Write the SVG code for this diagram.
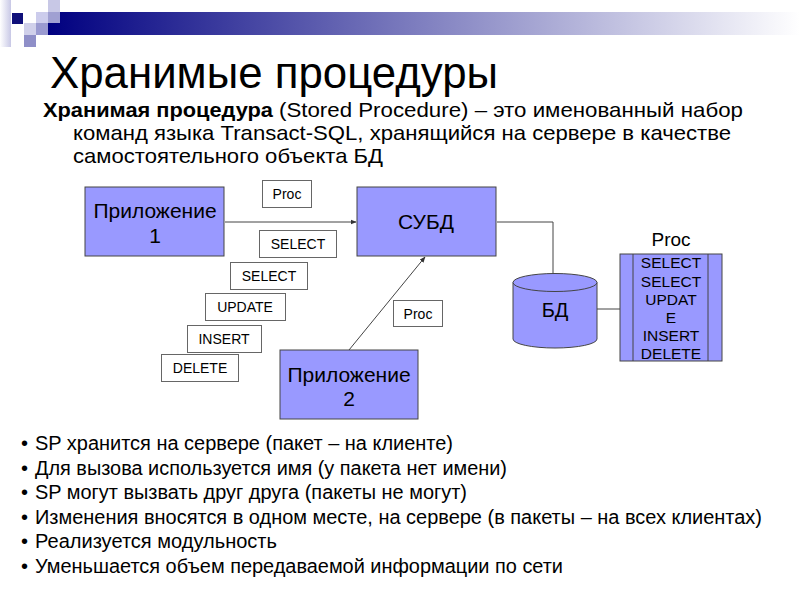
<svg xmlns="http://www.w3.org/2000/svg" width="800" height="600" viewBox="0 0 800 600">
<defs>
<linearGradient id="bar" x1="0" y1="0" x2="1" y2="0">
<stop offset="0" stop-color="#000080"/>
<stop offset="0.5" stop-color="#8080c0"/>
<stop offset="1" stop-color="#ffffff"/>
</linearGradient>
<linearGradient id="strip" x1="0" y1="0" x2="1" y2="0">
<stop offset="0" stop-color="#ffffff"/>
<stop offset="1" stop-color="#c8c8e6"/>
</linearGradient>
<marker id="arr" viewBox="0 0 10 10" refX="9" refY="5" markerWidth="6" markerHeight="6" orient="auto" markerUnits="userSpaceOnUse">
<path d="M0,1 L10,5 L0,9 z" fill="#333"/>
</marker>
<style>
text{font-family:"Liberation Sans",Arial,sans-serif;fill:#000}
.node{fill:#9999ff;stroke:#444;stroke-width:1}
.lbl{fill:#fff;stroke:#666;stroke-width:1}
.lt{font-size:14px;text-anchor:middle}
.nt{font-size:21px;text-anchor:middle}
.st{font-size:15.5px;text-anchor:middle}
.bul{font-size:20px}
.intro{font-size:21px}
.conn{fill:none;stroke:#444;stroke-width:1}
</style>
</defs>
<rect width="800" height="600" fill="#fff"/>
<g id="header">
<rect x="0" y="0" width="11" height="47" fill="url(#strip)"/>
<rect x="48" y="12" width="752" height="23" fill="url(#bar)"/>
<rect x="12" y="13" width="11" height="11" fill="#10107a"/>
<rect x="48" y="0" width="12" height="12" fill="#c8c8e6"/>
<rect x="36" y="12" width="12" height="11" fill="#ccccec"/>
<rect x="48" y="12" width="12" height="11" fill="#a0a0d2"/>
<rect x="24" y="23" width="12" height="12" fill="#d0d0ea"/>
<rect x="36" y="23" width="12" height="12" fill="#9a9ad0"/>
<rect x="24" y="35" width="12" height="12" fill="#8f8fc8"/>
</g>
<text x="50" y="88" style="font-size:44px" textLength="448" lengthAdjust="spacingAndGlyphs">Хранимые процедуры</text>
<text class="intro" x="43" y="117" font-weight="bold" textLength="230" lengthAdjust="spacingAndGlyphs">Хранимая процедура</text>
<text class="intro" x="279" y="117" textLength="464" lengthAdjust="spacingAndGlyphs">(Stored Procedure) – это именованный набор</text>
<text class="intro" x="73" y="140" textLength="658" lengthAdjust="spacingAndGlyphs">команд языка Transact-SQL, хранящийся на сервере в качестве</text>
<text class="intro" x="73" y="163" textLength="310" lengthAdjust="spacingAndGlyphs">самостоятельного объекта БД</text>
<g id="connectors">
<line class="conn" x1="225" y1="222" x2="356" y2="222" marker-end="url(#arr)"/>
<line class="conn" x1="349" y1="350" x2="425" y2="257" marker-end="url(#arr)"/>
<polyline class="conn" points="497,222 553,222 553,274"/>
<line class="conn" x1="597" y1="309" x2="620" y2="309"/>
</g>
<g id="app1">
<rect class="node" x="85" y="187" width="139" height="69"/>
<text class="nt" x="155" y="218">Приложение</text>
<text class="nt" x="155" y="243">1</text>
</g>
<g id="dbms">
<rect class="node" x="357" y="187" width="139" height="69"/>
<text class="nt" x="426" y="229">СУБД</text>
</g>
<g id="app2">
<rect class="node" x="280" y="350" width="138" height="69"/>
<text class="nt" x="349" y="382">Приложение</text>
<text class="nt" x="349" y="406">2</text>
</g>
<g id="db">
<path class="node" d="M513,282.5 L513,339 A42,9 0 0 0 597,339 L597,282.5"/>
<ellipse class="node" cx="555" cy="282.5" rx="42" ry="9"/>
<text class="nt" x="555" y="317" style="font-size:20px">БД</text>
</g>
<g id="proc-store">
<text x="671" y="246" style="font-size:19px;text-anchor:middle">Proc</text>
<rect class="node" x="620" y="254" width="102" height="107"/>
<line class="conn" x1="633" y1="254" x2="633" y2="361"/>
<line class="conn" x1="708" y1="254" x2="708" y2="361"/>
<text class="st" x="671" y="268">SELECT</text>
<text class="st" x="671" y="287">SELECT</text>
<text class="st" x="671" y="305">UPDAT</text>
<text class="st" x="671" y="323">E</text>
<text class="st" x="671" y="341">INSERT</text>
<text class="st" x="671" y="359">DELETE</text>
</g>
<g id="lbl-proc1"><rect class="lbl" x="262.5" y="180.5" width="49" height="27"/><text class="lt" x="287" y="199">Proc</text></g>
<g id="lbl-select1"><rect class="lbl" x="259.5" y="230.5" width="77" height="27"/><text class="lt" x="298" y="249">SELECT</text></g>
<g id="lbl-select2"><rect class="lbl" x="230.5" y="262.5" width="77" height="27"/><text class="lt" x="269" y="281">SELECT</text></g>
<g id="lbl-update"><rect class="lbl" x="205.5" y="293.5" width="80" height="27"/><text class="lt" x="245" y="312">UPDATE</text></g>
<g id="lbl-insert"><rect class="lbl" x="187.5" y="325.5" width="74" height="27"/><text class="lt" x="224" y="344">INSERT</text></g>
<g id="lbl-delete"><rect class="lbl" x="161.5" y="354.5" width="77" height="27"/><text class="lt" x="200" y="373">DELETE</text></g>
<g id="lbl-proc2"><rect class="lbl" x="393.5" y="300.5" width="49" height="26"/><text class="lt" x="418" y="319">Proc</text></g>
<g id="bullets">
<text class="bul" x="21" y="450">•</text>
<text class="bul" x="35" y="450" textLength="418" lengthAdjust="spacingAndGlyphs">SP хранится на сервере (пакет – на клиенте)</text>
<text class="bul" x="21" y="474.6">•</text>
<text class="bul" x="35" y="474.6" textLength="472" lengthAdjust="spacingAndGlyphs">Для вызова используется имя (у пакета нет имени)</text>
<text class="bul" x="21" y="499.2">•</text>
<text class="bul" x="35" y="499.2" textLength="432" lengthAdjust="spacingAndGlyphs">SP могут вызвать друг друга (пакеты не могут)</text>
<text class="bul" x="21" y="523.8">•</text>
<text class="bul" x="35" y="523.8" textLength="727" lengthAdjust="spacingAndGlyphs">Изменения вносятся в одном месте, на сервере (в пакеты – на всех клиентах)</text>
<text class="bul" x="21" y="548.4">•</text>
<text class="bul" x="35" y="548.4" textLength="242" lengthAdjust="spacingAndGlyphs">Реализуется модульность</text>
<text class="bul" x="21" y="573">•</text>
<text class="bul" x="35" y="573" textLength="528" lengthAdjust="spacingAndGlyphs">Уменьшается объем передаваемой информации по сети</text>
</g>
</svg>
